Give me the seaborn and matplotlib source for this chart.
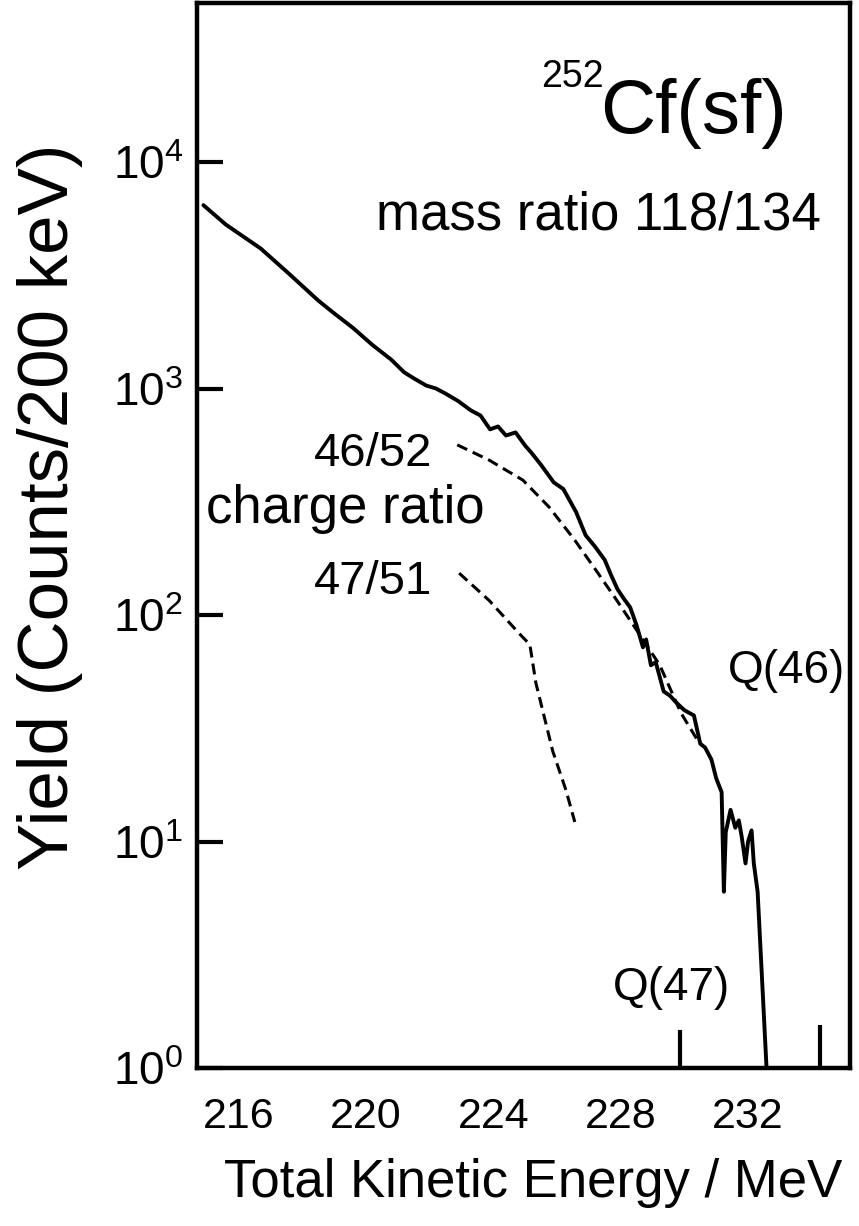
import numpy as np
import pandas as pd
import matplotlib
matplotlib.use("Agg")
import matplotlib.pyplot as plt
from matplotlib.ticker import NullLocator, FixedLocator
import seaborn as sns

# ---------------- data ----------------
tke_total = [214.9, 215.6, 216.7, 217.6, 218.5, 219.0, 219.6, 220.2, 220.8, 221.2,
             221.5, 221.9, 222.2, 222.5, 222.9, 223.3, 223.6, 223.9, 224.15, 224.4,
             224.7, 225.0, 225.2, 225.5, 225.9, 226.2, 226.6, 226.9, 227.2, 227.5,
             227.7, 227.9, 228.1, 228.3, 228.5, 228.7, 228.8, 228.95, 229.1, 229.35,
             229.55, 229.75, 230.0, 230.3, 230.5, 230.65, 230.85, 231.0, 231.17, 231.24,
             231.3, 231.45, 231.6, 231.71, 231.8, 231.92, 232.0, 232.11, 232.18, 232.3,
             232.58]
yield_total = [6450, 5300, 4150, 3200, 2450, 2150, 1850, 1560, 1340, 1180,
               1110, 1030, 1000, 950, 880, 800, 760, 660, 680, 620,
               640, 560, 520, 460, 385, 360, 285, 225, 200, 175,
               150, 130, 118, 108, 90, 72, 78, 60, 62, 46,
               44, 41, 38, 36, 27, 26, 23, 19, 16.5, 6,
               11, 13.8, 11.5, 12.4, 10.5, 8, 10, 11.2, 8, 6,
               1.0]

tke_4652 = [222.87, 223.87, 224.93, 225.75, 226.56, 227.22, 227.88, 228.57, 229.23, 229.89, 230.48]
yield_4652 = [564, 483, 394, 300, 214, 158, 116, 83, 60, 37, 27]

tke_4751 = [222.93, 223.87, 224.81, 225.15, 225.34, 225.87, 226.28, 226.56]
yield_4751 = [153, 116, 83, 74, 50, 25, 16.9, 12.2]

q_labels = ["Q(46)", "Q(47)"]
q_tke = [234.25, 229.86]
q_marker_top = [1.55, 1.47]

x_ticks = [216, 220, 224, 228, 232]
y_ticks = [1, 10, 100, 1000, 10000]
y_ticklabels = [r"$\mathregular{10^{0}}$", r"$\mathregular{10^{1}}$", r"$\mathregular{10^{2}}$",
                r"$\mathregular{10^{3}}$", r"$\mathregular{10^{4}}$"]

# ---------------- style ----------------
sns.set_theme(style="white")
plt.rcParams["font.family"] = ["Liberation Sans", "DejaVu Sans"]
plt.rcParams["mathtext.fontset"] = "custom"
plt.rcParams["mathtext.rm"] = "Liberation Sans"

W, H = 859, 1226
fig = plt.figure(figsize=(W / 100, H / 100), dpi=100)
L, R, T, B = 197, 850, 3, 1068
ax = fig.add_axes([L / W, 1 - B / H, (R - L) / W, (B - T) / H])

df_total = pd.DataFrame({"tke": tke_total, "y": yield_total})
df_a = pd.DataFrame({"tke": tke_4652, "y": yield_4652})
df_b = pd.DataFrame({"tke": tke_4751, "y": yield_4751})

sns.lineplot(data=df_total, x="tke", y="y", ax=ax, color="black", lw=2.8,
             estimator=None, sort=False)
sns.lineplot(data=df_a, x="tke", y="y", ax=ax, color="black", lw=2.2,
             estimator=None, sort=False, dashes=False, linestyle=(0, (3.6, 2.0)))
sns.lineplot(data=df_b, x="tke", y="y", ax=ax, color="black", lw=2.2,
             estimator=None, sort=False, dashes=False, linestyle=(0, (3.6, 2.0)))

ax.vlines(q_tke, 1, q_marker_top, colors="black", lw=3)

ax.set_yscale("log")
ax.set_xlim(214.7, 235.2)
ax.set_ylim(1, 10 ** 4.702)
ax.yaxis.set_major_locator(FixedLocator(y_ticks))
ax.yaxis.set_minor_locator(NullLocator())
ax.set_yticklabels(y_ticklabels)
ax.set_xticks(x_ticks)
ax.set_xticklabels([str(v) for v in x_ticks])

ax.tick_params(axis="y", direction="in", length=19, width=3, pad=10, labelsize=33,
               colors="black", left=True)
ax.tick_params(axis="x", length=0, pad=21, labelsize=31, colors="black")

for s in ax.spines.values():
    s.set_visible(True)
    s.set_color("black")
    s.set_linewidth(3.2)

ax.set_xlabel("Total Kinetic Energy / MeV", fontsize=38, color="black")
ax.xaxis.set_label_coords((533 - L) / (R - L), -(1158 - B) / (B - T))
ax.set_ylabel("Yield (Counts/200 keV)", fontsize=51, color="black", va="center")
ax.yaxis.set_label_coords(-(L - 50) / (R - L), (B - 507) / (B - T))
ax.set_facecolor("white")


def pos(px, py):
    return (px - L) / (R - L), (B - py) / (B - T)


def label(px, py, s, size, ha="left"):
    x, y = pos(px, py)
    ax.text(x, y, s, transform=ax.transAxes, fontsize=size, ha=ha, va="baseline",
            color="black")


label(541, 87, "252", 27)
label(600, 133, "Cf(sf)", 55)
label(376, 230, "mass ratio 118/134", 38)
label(432, 466, "46/52", 34, ha="right")
label(206, 523, "charge ratio", 38)
label(432, 594, "47/51", 34, ha="right")
label(845, 683, q_labels[0], 33, ha="right")
label(730, 1000, q_labels[1], 33, ha="right")

fig.savefig("out.png", dpi=100, facecolor="white")
